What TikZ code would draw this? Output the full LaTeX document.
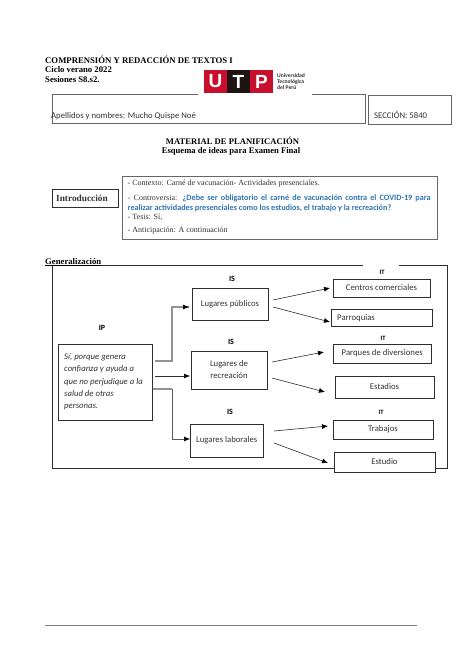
\documentclass[tikz,border=0pt]{standalone}
\usepackage{fontspec}
\setmainfont{Liberation Serif}
\newfontfamily\calfont{Carlito}
\setsansfont{Liberation Sans}
\usetikzlibrary{arrows.meta,calc}
\definecolor{utpred}{HTML}{C8102E}
\definecolor{utpblack}{HTML}{1E1512}
\definecolor{linkblue}{HTML}{2E75B6}
\definecolor{edge}{HTML}{2E2E2E}
\definecolor{txt}{HTML}{333333}
\tikzset{
  px/.style={x=1pt,y=-1pt},
  boxA/.style={draw=edge,line width=1pt,fill=white,inner sep=0pt,align=center,font=\calfont\fontsize{8.7}{12}\selectfont,text=txt},
  lab/.style={inner sep=0pt,font=\calfont\bfseries\fontsize{8}{9}\selectfont,text=black},
  smalllab/.style={inner sep=0pt,font=\calfont\bfseries\fontsize{6.5}{7}\selectfont,text=black},
  head/.style={inner sep=0pt,anchor=west,font=\bfseries\fontsize{8.7}{10}\selectfont,text=black},
  arr/.style={draw=edge,line width=0.6pt,-{Latex[length=6pt,width=5pt,black]}},
  grayarr/.style={draw=gray!85,line width=1.1pt},
  frame/.style={draw=edge,line width=0.8pt},
  linesty/.style={inner sep=0pt,anchor=west,font=\fontsize{8}{9}\selectfont,text=txt},
}
\newcommand{\mybox}[6]{\node[boxA,minimum width=#4pt-#2pt,minimum height=#5pt-#3pt,#6] at ({(#2+#4)/2},{(#3+#5)/2}) (#1)}
\begin{document}
\begin{tikzpicture}[px]
\useasboundingbox[fill=white] (0,0) rectangle (474,670);
% header
\node[head] (h1) at (45,59.5) {COMPRENSIÓN Y REDACCIÓN DE TEXTOS I};
\node[head] (h2) at (45,70) {Ciclo verano 2022};
\node[head] (h3) at (45,80) {Sesiones S8.s2.};
% name boxes
\mybox{namebox}{52}{94}{365.5}{123}{draw=gray!80!black,line width=0.7pt}{};
\mybox{secbox}{368}{95}{451}{124}{draw=gray!80!black,line width=0.7pt}{};
\fill[white] (198,90) rectangle (312,95.5);
\node[inner sep=0pt,anchor=west,font=\calfont\fontsize{8.7}{9}\selectfont,text=txt] (nm) at (51,116) {Apellidos y nombres: Mucho Quispe Noé};
\node[inner sep=0pt,anchor=west,font=\calfont\fontsize{8.7}{9}\selectfont,text=txt] (sec) at (374,115) {SECCIÓN: 5840};
% logo
\fill[utpred] (204,70) rectangle (273,93);
\fill[utpblack] (227,70) rectangle (250,93);
\node[font=\sffamily\bfseries\fontsize{19}{19}\selectfont,text=white,inner sep=0pt] (lu) at (215.5,81.5) {U};
\node[font=\sffamily\bfseries\fontsize{19}{19}\selectfont,text=white,inner sep=0pt] (lt) at (238.5,81.5) {T};
\node[font=\sffamily\bfseries\fontsize{19}{19}\selectfont,text=white,inner sep=0pt] (lp) at (261.5,81.5) {P};
\node[inner sep=0pt,anchor=west,align=left,font=\calfont\bfseries\fontsize{5.6}{6.4}\selectfont,text=txt] (lg) at (277,81.5) {Universidad\\Tecnológica\\del Perú};
% titles
\node[inner sep=0pt,font=\bfseries\fontsize{8.6}{10}\selectfont] (t1) at (232.5,140.5) {MATERIAL DE PLANIFICACIÓN};
\node[inner sep=0pt,font=\bfseries\fontsize{8.6}{10}\selectfont] (t2) at (231,151) {Esquema de ideas para Examen Final};
% intro
\mybox{intro}{52}{189}{118}{207}{draw=edge,line width=0.7pt}{};
\node[inner sep=0pt,font=\bfseries\fontsize{9.3}{10}\selectfont,text=txt,anchor=west] (introt) at (56,198.5) {Introducción};
\mybox{tbox}{122}{176}{437}{239}{line width=1pt,draw=gray!80!black}{};
\node[linesty] (c1) at (127.5,184) {- Contexto: Carné de vacunación- Actividades presenciales.};
\node[linesty,text width=303pt,align=justify,font=\fontsize{8}{10.3}\selectfont] (c2) at (127.5,203.5) {- Controversia: {\calfont\bfseries\fontsize{8.2}{10.3}\selectfont\color{linkblue}¿Debe ser obligatorio el carné de vacunación contra el COVID-19 para\linebreak realizar actividades presenciales como los estudios, el trabajo y la recreación?}};
\node[linesty] (c3) at (127.5,217.5) {- Tesis: Sí,};
\node[linesty] (c4) at (127.5,230.5) {- Anticipación: A continuación};
% generalizacion
\draw[frame] (363,265) -- (52,265) -- (52,468) -- (447,468) -- (447,265) -- (399,265);
\node[head] (gen) at (45,261.5) {Generalización};
\draw[black,line width=0.5pt] (gen.west |- 0,265) -- (gen.east |- 0,265);
% IP and IS
\node[lab] (ip) at (102,328) {IP};
\mybox{ipbox}{58}{344}{152}{420}{}{};
\node[inner sep=0pt,anchor=west,align=left,font=\calfont\itshape\fontsize{8.7}{12.3}\selectfont,text=txt] (iptext) at (64,382) {Sí, porque genera\\confianza y ayuda a\\que no perjudique a la\\salud de otras\\personas.};
\node[lab] (is1) at (232,279) {IS};
\mybox{pub}{192}{288}{268}{320}{}{Lugares públicos};
\node[lab] (is2) at (231,342) {IS};
\mybox{rec}{191}{351}{267}{389}{}{Lugares de\\recreación};
\node[lab] (is3) at (230,412) {IS};
\mybox{labo}{190}{424}{263.5}{457}{}{Lugares laborales};
% IT
\node[smalllab] (it1) at (382,272) {IT};
\mybox{cen}{333}{279}{430}{297}{}{Centros comerciales};
\mybox{par}{331}{309}{432}{326}{}{};
\node[inner sep=0pt,anchor=west,font=\calfont\fontsize{8.7}{9}\selectfont,text=txt] (part) at (337,318) {Parroquias};
\node[smalllab] (it2) at (383,338) {IT};
\mybox{prq}{333}{344}{431.5}{363}{}{Parques de diversiones};
\mybox{est}{335}{376}{434}{398}{}{Estadios};
\node[smalllab] (it3) at (381,412) {IT};
\mybox{tra}{333}{420}{433}{439}{}{Trabajos};
\mybox{edu}{334}{452}{435}{472}{}{Estudio};
% connector coordinates
\coordinate (a1) at (155,361); \coordinate (a1m) at (172,361); \coordinate (a1n) at (172,307); \coordinate (a1e) at (189,307);
\coordinate (a2) at (155,376); \coordinate (a2e) at (190,376);
\coordinate (a3m) at (172,389); \coordinate (a3n) at (172,439); \coordinate (a3e) at (190,439);
\draw[grayarr] (a1) -- (a1m) -- (a1n) -- (a1e);
\draw[arr] ($(a1e)+(-6,0)$) -- (a1e);
\draw[arr] (a2) -- (a2e);
\draw[grayarr] (ipbox.east |- a3m) -- (a3m);
\draw[arr,draw=gray!70!black] (a3m) -- (a3n) -- (a3e);
\coordinate (b1) at (273,300); \coordinate (b1e) at (330,288);
\coordinate (b2) at (273,307); \coordinate (b2e) at (330,322);
\coordinate (b3) at (272,362); \coordinate (b3e) at (324,352);
\coordinate (b4) at (272,378); \coordinate (b4e) at (325,392);
\coordinate (b5) at (274,431); \coordinate (b5e) at (328,426);
\coordinate (b6) at (274,443); \coordinate (b6e) at (328,463);
\foreach \s/\e in {b1/b1e,b2/b2e,b3/b3e,b4/b4e,b5/b5e,b6/b6e} \draw[arr] (\s) -- (\e);
% footer
\coordinate (f1) at (45,625); \coordinate (f2) at (417,625);
\draw[draw=gray,line width=0.7pt] (f1) -- (f2);
\end{tikzpicture}
\end{document}
